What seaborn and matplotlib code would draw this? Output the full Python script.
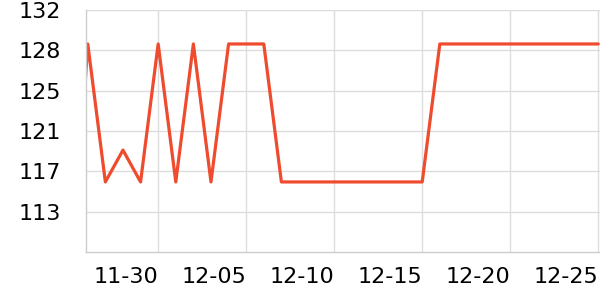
import matplotlib
matplotlib.use("Agg")
import matplotlib.pyplot as plt
import matplotlib.dates as mdates
import seaborn as sns
import pandas as pd
import numpy as np

# ---- data ----
dates = pd.date_range("2023-11-25", "2023-12-25", freq="D")
values = [104,
          129, 116, 119, 116, 129, 116, 129, 116, 129, 129,
          129, 116, 116, 116, 116, 116, 116, 116, 116, 116,
          129, 129, 129, 129, 129, 129, 129, 129, 129, 129]
y_ticks = [132.2, 128.4, 124.6, 120.8, 117.0, 113.2]
y_tick_labels = ["132", "128", "125", "121", "117", "113"]
x_ticks = ["2023-11-30", "2023-12-05", "2023-12-10", "2023-12-15", "2023-12-20", "2023-12-25"]
x_tick_labels = ["11-30", "12-05", "12-10", "12-15", "12-20", "12-25"]

df = pd.DataFrame({"date": dates, "value": values})

sns.set_theme(style="white")
plt.rcParams["font.family"] = ["DejaVu Sans"]

fig = plt.figure(figsize=(6, 3), dpi=100)
ax = fig.add_axes([86/600, 48/300, 514/600, 242/300])

sns.lineplot(data=df, x="date", y="value", ax=ax, color="#ef4b2e", linewidth=2.3)

ax.set_xlim(pd.Timestamp("2023-11-25 21:36"), pd.Timestamp("2023-12-25 02:24"))
ax.set_ylim(109.4, 132.2)

ax.set_yticks(y_ticks)
ax.set_yticklabels(y_tick_labels)
ax.set_xticks([pd.Timestamp(d) for d in x_ticks])
ax.set_xticklabels(x_tick_labels, ha="right")

ax.grid(True, color="#dddddd", linewidth=1)
ax.set_axisbelow(True)
for s in ["top", "right"]:
    ax.spines[s].set_visible(False)
for s in ["left", "bottom"]:
    ax.spines[s].set_color("#cccccc")
    ax.spines[s].set_linewidth(1)

ax.tick_params(axis="y", length=0, pad=18, labelsize=16, labelcolor="black")
ax.tick_params(axis="x", length=3, width=1, color="#cccccc", pad=8,
               labelsize=16, labelcolor="black")
ax.set_xlabel("")
ax.set_ylabel("")

fig.savefig("out.png", dpi=100)
